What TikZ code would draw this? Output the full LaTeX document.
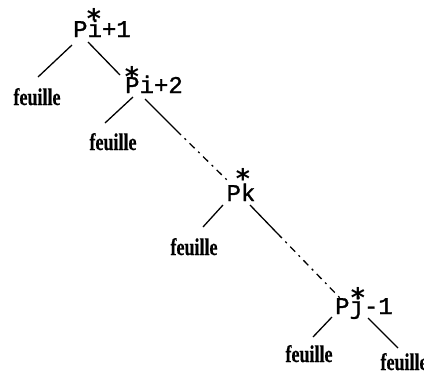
\documentclass[tikz,border=0pt]{standalone}
\usepackage{fontspec}
\setmainfont{Liberation Serif}
\newfontfamily\labfont[FakeBold=1.2]{Liberation Mono}
\newfontfamily\leaffont[FakeBold=0.6]{Liberation Serif Bold}
\newfontfamily\starfont{DejaVu Sans Bold}
\begin{document}
\begin{tikzpicture}[x=1pt,y=-1pt,
  lab/.style={inner sep=0pt,anchor=base,font=\labfont\fontsize{24}{24}\selectfont},
  leaf/.style={inner sep=0pt,anchor=base,font=\leaffont\fontsize{24}{24}\selectfont},
  starmark/.style={inner sep=0pt,font=\starfont\fontsize{27}{27}\selectfont},
  edge/.style={line width=1.3pt},
  dd/.style={line width=1.3pt,dash pattern=on 7pt off 5pt on 2pt off 5pt}]
\useasboundingbox (0,0) rectangle (424,373);
% labels
\node[lab] (A) at (102,37) {Pi+1};
\node[lab] (B) at (154,93) {Pi+2};
\node[lab] (C) at (241,201) {Pk};
\node[lab] (D) at (364,314) {Pj-1};
\node[starmark] (sA) at (94,18) {*};
\node[starmark] (sB) at (132,76) {*};
\node[starmark] (sC) at (243,178) {*};
\node[starmark] (sD) at (358,297) {*};
% leaves
\node[leaf] (L1) at (37,105) {\scalebox{0.75}[1]{feuille}};
\node[leaf] (L2) at (113,150) {\scalebox{0.75}[1]{feuille}};
\node[leaf] (L3) at (194,255) {\scalebox{0.75}[1]{feuille}};
\node[leaf] (L4) at (309,362) {\scalebox{0.75}[1]{feuille}};
\node[leaf] (L5) at (404,370) {\scalebox{0.75}[1]{feuille}};
% connector ends
\coordinate (A1) at (72,45);   \coordinate (L1t) at (38,77);
\coordinate (A2) at (88,42);   \coordinate (Bt) at (120,75);
\coordinate (B1) at (133,97);  \coordinate (L2t) at (105,123);
\coordinate (B2) at (145,99);  \coordinate (Bm) at (176,130); \coordinate (Ct) at (228,181);
\coordinate (C1) at (223,205); \coordinate (L3t) at (203,227);
\coordinate (C2) at (250,205); \coordinate (Cm) at (277,233); \coordinate (Dt) at (340,298);
\coordinate (D1) at (332,317); \coordinate (L4t) at (313,337);
\coordinate (D2) at (368,318); \coordinate (L5t) at (398,348);
\draw[edge] (A1) -- (L1t);
\draw[edge] (A2) -- (Bt);
\draw[edge] (B1) -- (L2t);
\draw[edge] (B2) -- (Bm);
\draw[dd] (Bm) -- (Ct);
\draw[edge] (C1) -- (L3t);
\draw[edge] (C2) -- (Cm);
\draw[dd] (Cm) -- (Dt);
\draw[edge] (D1) -- (L4t);
\draw[edge] (D2) -- (L5t);
\end{tikzpicture}
\end{document}
